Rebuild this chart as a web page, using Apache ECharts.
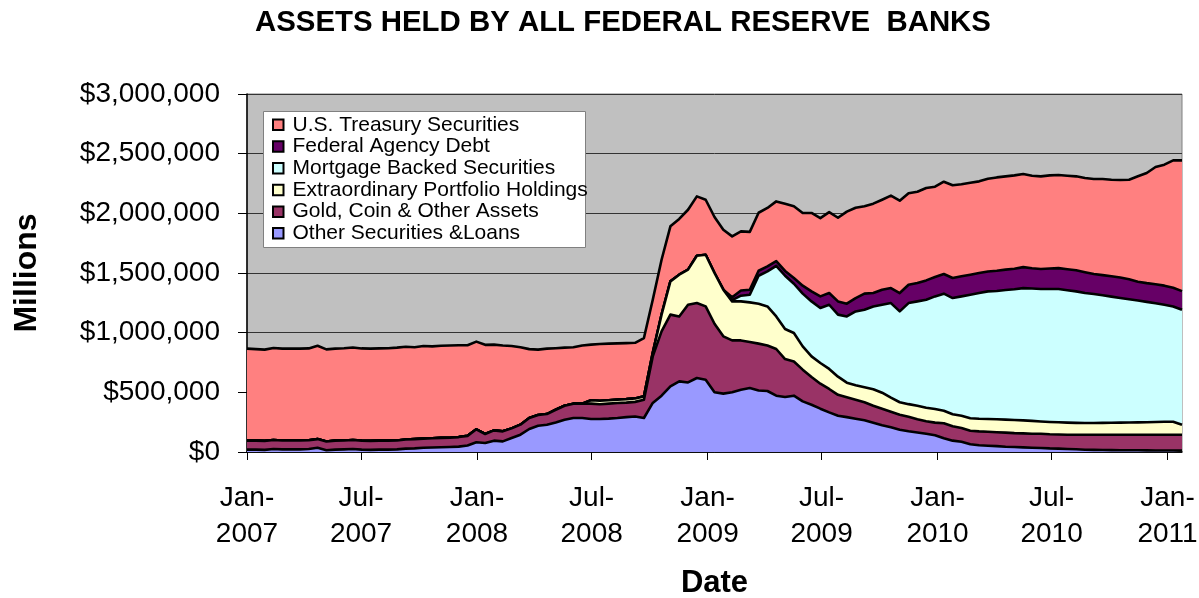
<!DOCTYPE html>
<html>
<head>
<meta charset="utf-8">
<script src="https://cdn.jsdelivr.net/npm/echarts@6/dist/echarts.min.js"></script>
<style>
html,body{margin:0;padding:0;background:#ffffff;}
#chart{width:1199px;height:598px;}
</style>
</head>
<body>
<div id="chart"></div>
<script>
// Sampling grid: one reading every 14 days starting 1 Jan 2007 (x = days since start)
const STEP_DAYS = 14;

// X-axis ticks (days since 1 Jan 2007) and their labels
const xTickDays = [0, 181, 365, 547, 731, 912, 1096, 1277, 1461];
const xTickLabels = ['Jan-\n2007', 'Jul-\n2007', 'Jan-\n2008', 'Jul-\n2008', 'Jan-\n2009',
                     'Jul-\n2009', 'Jan-\n2010', 'Jul-\n2010', 'Jan-\n2011'];

// Series values, in $ billions (thousands of $ millions)
const otherSecuritiesLoans = [
  20,20,18,25,22,22,22,25,35,15, 20,22,25,20,18,20,20,22,28,30,
  35,38,40,42,45,55,82,75,95,89, 117,145,193,220,229,248,271,285,285,277,
  277,280,285,292,298,
  285,411,472,550,592,583,620,606,500,489, 500,522,536,516,511,472,461,472,424,396,
  363,332,304,292,279,266,246,225,208,187, 174,164,153,141,116,95,86,65,57,53,
  49,44,42,39,36,34,30,28,25,23, 19,18,17,16,15,15,15,14,13,13,
  12,12
];
const goldCoinOther = [
  75,75,75,75,75,75,74,73,73,73, 75,75,75,75,75,75,75,75,77,78,
  77,77,78,78,80,80,108,76,86,84, 81,84,92,90,89,106,117,120,120,128,
  123,125,125,122,122,
  153,390,539,601,544,651,629,614,575,480, 435,413,386,392,382,391,318,287,266,232,
  209,196,175,166,159,151,142,138,130,126, 122,111,105,105,125,120,115,113,116,117,
  117,118,116,117,117,119,119,119,120,122, 126,127,128,129,130,130,130,131,132,132,
  133,133
];
const extraordinaryHoldings = [
  0,0,0,0,0,0,0,0,0,0, 0,0,0,0,0,0,0,0,0,0,
  0,0,0,0,0,0,0,0,0,0, 0,0,0,0,0,0,0,0,0,29,
  29,29,29,29,29,
  28,30,140,279,350,294,396,433,425,391, 327,327,332,335,327,273,252,238,195,173,
  174,168,152,123,122,126,138,134,117,104, 105,113,113,114,105,102,103,105,106,107,
  108,109,110,109,108,103,103,102,101,99, 98,98,99,100,101,102,103,104,106,109,
  109,84
];
const mortgageBacked = [
  0,0,0,0,0,0,0,0,0,0, 0,0,0,0,0,0,0,0,0,0,
  0,0,0,0,0,0,0,0,0,0, 0,0,0,0,0,0,0,0,0,0,
  0,0,0,0,0,
  0,0,0,0,0,0,0,0,0,0, 10,48,64,234,293,424,446,413,442,461,
  461,538,520,555,618,649,694,737,793,761, 847,874,905,944,981,973,1000,1035,1053,1069,
  1075,1087,1096,1108,1109,1110,1114,1117,1110,1102, 1089,1081,1069,1057,1045,1033,1021,1009,996,980,
  966,963
];
const federalAgencyDebt = [
  0,0,0,0,0,0,0,0,0,0, 0,0,0,0,0,0,0,0,0,0,
  0,0,0,0,0,0,0,0,0,0, 0,0,0,0,0,0,0,0,0,0,
  0,0,0,0,0,
  0,0,0,0,0,0,0,0,0,0, 25,44,42,42,42,40,40,48,67,84,
  97,98,111,107,112,135,112,126,126,154, 154,154,162,162,165,168,168,168,168,167,
  170,170,172,176,170,168,172,175,176,177, 175,168,169,171,171,168,158,157,158,160,
  157,156
];
const treasurySecurities = [
  771,767,765,772,769,769,770,770,782,772, 771,773,776,773,773,773,775,778,777,770,
  776,770,772,773,770,760,735,747,719,720, 690,649,577,548,548,516,487,473,488,466,
  476,474,471,469,466,
  489,445,460,461,467,502,497,461,469,503, 510,495,485,486,490,500,563,602,609,657,
  656,678,701,771,757,733,749,754,774,774, 767,765,774,757,773,778,772,771,768,777,
  782,782,782,781,775,776,780,780,783,787, 789,796,806,809,817,834,883,923,983,1014,
  1067,1096
];

const yTicks = { min: 0, max: 3000000, interval: 500000 };

// Stack order, bottom first
const layers = [
  { name: 'Other Securities &Loans',          values: otherSecuritiesLoans,  color: '#9999FF' },
  { name: 'Gold, Coin & Other Assets',        values: goldCoinOther,         color: '#993366' },
  { name: 'Extraordinary Portfolio Holdings', values: extraordinaryHoldings, color: '#FFFFCC' },
  { name: 'Mortgage Backed Securities',       values: mortgageBacked,        color: '#CCFFFF' },
  { name: 'Federal Agency Debt',              values: federalAgencyDebt,     color: '#660066' },
  { name: 'U.S. Treasury Securities',         values: treasurySecurities,    color: '#FF8080' }
];
const legendOrder = layers.map(l => l.name).reverse();

const FONT = "'Liberation Sans', Arial, Helvetica, sans-serif";
const lastDay = (otherSecuritiesLoans.length - 1) * STEP_DAYS;

// Column 0 = value (stacked), column 1 = day on the x axis
const series = layers.map((l, k) => ({
  name: l.name,
  type: 'line',
  stack: 'assets',
  symbol: 'none',
  showSymbol: false,
  z: 10 - k,
  color: l.color,
  encode: { x: 1, y: 0 },
  lineStyle: { color: '#000000', width: 2.6, join: 'round' },
  areaStyle: { color: l.color, opacity: 1 },
  itemStyle: { color: l.color },
  emphasis: { disabled: true },
  data: l.values.map((v, i) => [v * 1000, i * STEP_DAYS])
}));

const chart = echarts.init(document.getElementById('chart'), null, { renderer: 'canvas' });
chart.setOption({
  animation: false,
  backgroundColor: '#ffffff',
  textStyle: { fontFamily: FONT },
  title: {
    text: 'ASSETS HELD BY ALL FEDERAL RESERVE  BANKS',
    left: 255, top: 8, padding: 0,
    textStyle: { fontFamily: FONT, fontSize: 29.4, fontWeight: 'bold', color: '#000000' }
  },
  grid: {
    left: 247, right: 17, top: 94, bottom: 146,
    outerBoundsMode: 'none',
    containLabel: false,
    show: true, backgroundColor: '#C0C0C0', borderColor: '#808080', borderWidth: 1
  },
  graphic: {
    elements: [{
      type: 'rect', left: 263, top: 111, z: 30,
      shape: { width: 322, height: 136 },
      style: { fill: '#ffffff', stroke: '#808080', lineWidth: 1 }
    }]
  },
  legend: {
    data: legendOrder,
    orient: 'vertical',
    left: 272, top: 114, padding: 0, itemGap: 0,
    z: 40,
    icon: 'rect', itemWidth: 10.5, itemHeight: 10.5,
    itemStyle: { borderColor: '#000000', borderWidth: 2 },
    selectedMode: false,
    textStyle: { fontFamily: FONT, fontSize: 21, color: '#000000', lineHeight: 21.7, padding: [0, 0, 0, 4] }
  },
  xAxis: {
    type: 'value',
    min: 0, max: lastDay,
    name: 'Date', nameLocation: 'middle', nameGap: 116,
    nameTextStyle: { fontFamily: FONT, fontSize: 31, fontWeight: 'bold', color: '#000000' },
    axisLine: { show: true, lineStyle: { color: '#000000', width: 1.5 } },
    axisTick: { show: true, length: 8, customValues: xTickDays, lineStyle: { color: '#000000', width: 1 } },
    axisLabel: {
      customValues: xTickDays,
      margin: 28,
      fontFamily: FONT, fontSize: 28, lineHeight: 36, color: '#000000',
      formatter: v => { const k = xTickDays.indexOf(v); return k >= 0 ? xTickLabels[k] : ''; }
    },
    splitLine: { show: false }
  },
  yAxis: {
    type: 'value',
    min: yTicks.min, max: yTicks.max, interval: yTicks.interval,
    name: 'Millions', nameLocation: 'middle', nameRotate: 90, nameGap: 204,
    nameTextStyle: { fontFamily: FONT, fontSize: 32, fontWeight: 'bold', color: '#000000' },
    axisLine: { show: true, lineStyle: { color: '#000000', width: 1.5 } },
    axisTick: { show: true, length: 9, lineStyle: { color: '#000000', width: 1 } },
    axisLabel: {
      margin: 27, fontFamily: FONT, fontSize: 28, color: '#000000',
      formatter: v => '$' + Number(v).toLocaleString('en-US')
    },
    splitLine: { show: true, lineStyle: { color: '#333333', width: 1 } }
  },
  series: series
});
</script>
</body>
</html>
